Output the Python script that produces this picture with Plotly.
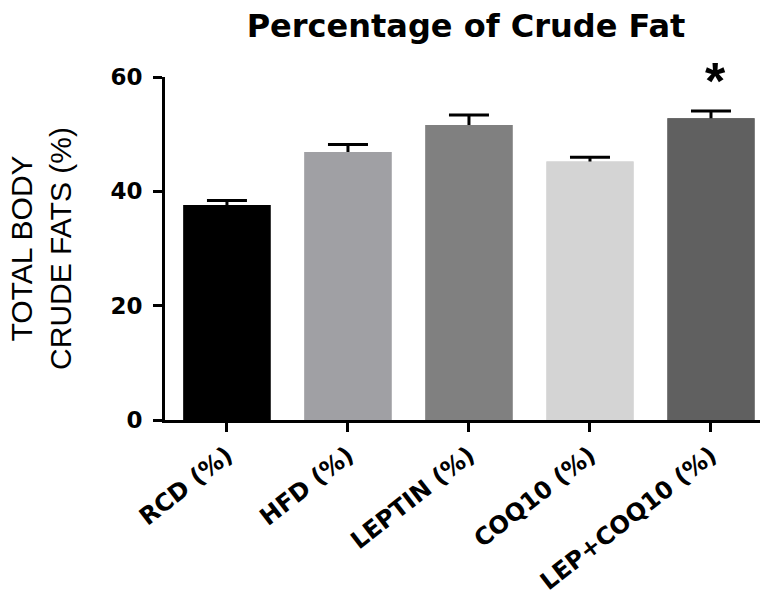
import plotly.graph_objects as go

groups = ["RCD (%)", "HFD (%)", "LEPTIN (%)", "COQ10 (%)", "LEP+COQ10 (%)"]
fat_pct = [37.6, 46.9, 51.6, 45.2, 52.8]
sem = [0.8, 1.3, 1.75, 0.75, 1.25]
bar_colors = ["#000000", "#a0a0a4", "#808080", "#d4d4d4", "#606060"]
y_ticks = [0, 20, 40, 60]

bold = "DejaVu Sans"

fig = go.Figure()

# bars with symmetric error bars, then the same bars again on top so only the upper half shows
fig.add_trace(go.Bar(
    x = groups, y = fat_pct, width = 0.72,
    marker = dict(color = bar_colors, line = dict(width = 0)),
    error_y = dict(type = "data", array = sem, color = "black", thickness = 3, width = 20),
))
fig.add_trace(go.Bar(
    x = groups, y = fat_pct, width = 0.72,
    marker = dict(color = bar_colors, line = dict(width = 0)),
))

# significance marker over the last group
fig.add_annotation(x = groups[-1], y = 60, text = "<b>*</b>", showarrow = False,
                   font = dict(size = 52, color = "black", family = "Liberation Sans"),
                   yanchor = "middle", xshift = 5, yshift = -4)

fig.update_layout(
    width = 763, height = 597,
    margin = dict(l = 165, r = 3, t = 77, b = 177),
    plot_bgcolor = "white", paper_bgcolor = "white",
    showlegend = False, barmode = "overlay",
    font = dict(family = "Liberation Sans", color = "black"),
    title = dict(text = "<b>Percentage of Crude Fat</b>", x = 466 / 763, xanchor = "center",
                 y = 1 - 26 / 597, yanchor = "middle", font = dict(size = 32, family = bold)),
)

fig.update_xaxes(
    range = [-0.512, 4.405], showline = True, linecolor = "black", linewidth = 3,
    ticks = "outside", ticklen = 9, tickwidth = 3, tickcolor = "black", automargin = False,
    tickangle = -38, tickfont = dict(size = 24, family = bold),
    tickvals = groups, ticktext = [f"<b>{g}</b>" for g in groups],
)

fig.update_yaxes(
    range = [0, 60], tickvals = y_ticks, ticktext = [f"<b>{t}</b>" for t in y_ticks],
    showline = True, linecolor = "black", linewidth = 3, automargin = False,
    ticks = "outside", ticklen = 9, tickwidth = 3, tickcolor = "black", showgrid = False, zeroline = False,
    tickfont = dict(size = 23, family = bold), ticklabelstandoff = 6,
    title = dict(text = "TOTAL BODY<br>CRUDE FATS (%)", font = dict(size = 30), standoff = 30),
)

fig.write_html("out.html", config = {"displayModeBar": False},
               post_script = "document.body.style.margin = '0px';")
